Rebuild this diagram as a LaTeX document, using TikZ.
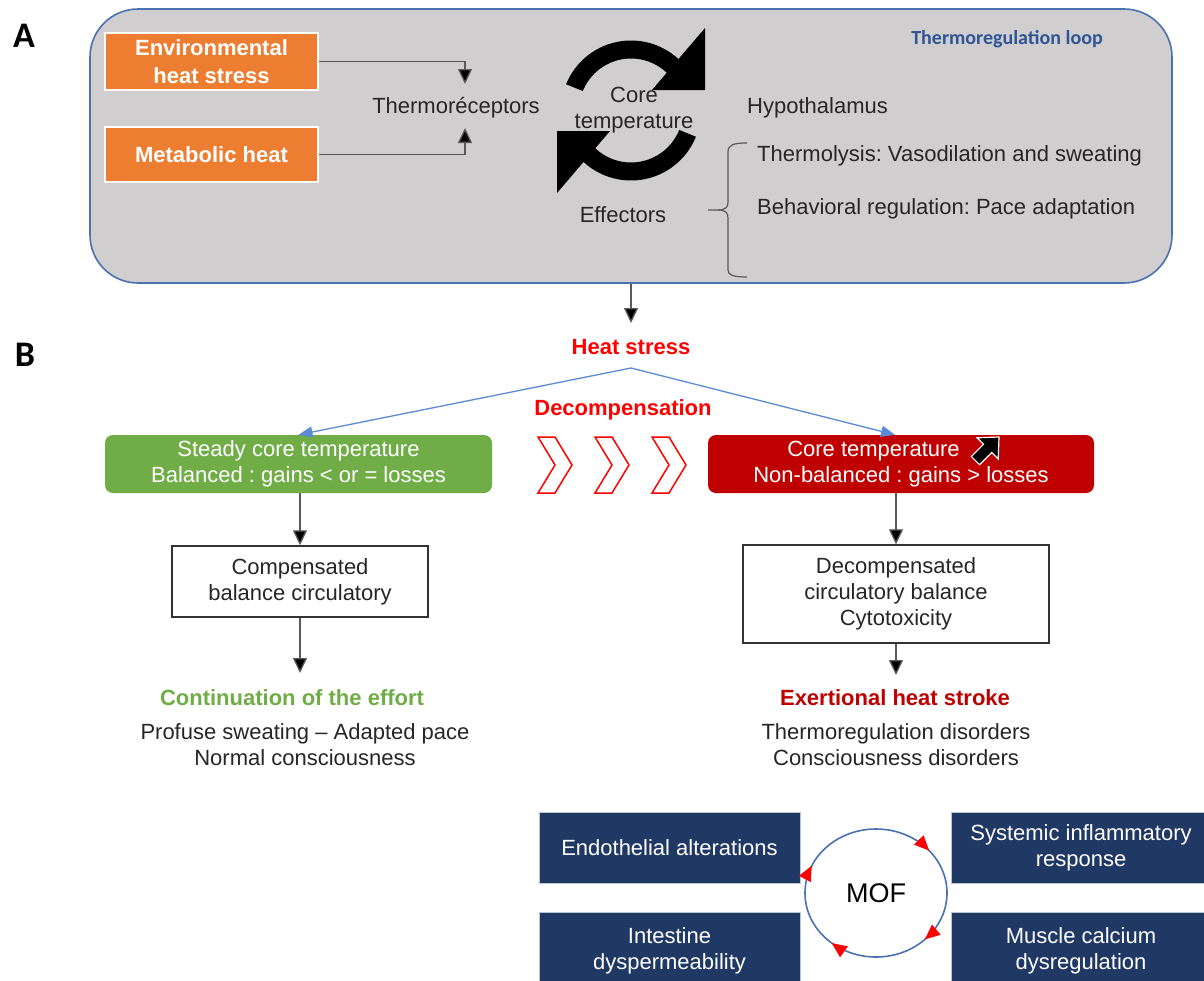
\documentclass[tikz,border=0pt]{standalone}
\usepackage{fontspec}
\setmainfont{Liberation Sans}
\newfontfamily\calib{Carlito}
\usetikzlibrary{arrows.meta,decorations.markings,calc}
\definecolor{loopgray}{HTML}{D0CECE}
\definecolor{loopblue}{HTML}{4A72B0}
\definecolor{orangec}{HTML}{ED7D31}
\definecolor{greenc}{HTML}{70AD47}
\definecolor{redboxc}{HTML}{C00000}
\definecolor{navyc}{HTML}{203864}
\definecolor{txtc}{HTML}{262626}
\definecolor{linec}{HTML}{595959}
\definecolor{brightred}{HTML}{FF0000}
\definecolor{titleblue}{HTML}{2F5597}
\definecolor{splitblue}{HTML}{5B8BD6}
\newcommand{\mysz}{\fontsize{22}{26}\selectfont}
\frenchspacing
\tikzset{
  txt/.style={inner sep=0pt, font=\mysz, text=txtc, align=center},
  conn/.style={draw=linec, line width=1.3pt, -{Triangle[length=15pt,width=14pt,fill=black]}},
  blueconn/.style={draw=splitblue, line width=1.3pt, -{Triangle[length=14pt,width=11pt]}},
  orangebox/.style={fill=orangec, draw=white, line width=2pt, minimum width=213pt, inner sep=0pt,
    text=white, font=\bfseries\fontsize{22}{28}\selectfont, align=center},
  flowbox/.style={rounded corners=8pt, inner sep=0pt, text=white, font=\mysz, align=center,
    minimum width=387pt, minimum height=58pt},
  wbox/.style={draw=black!80, fill=white, line width=1.4pt, inner sep=0pt, text=txtc, font=\mysz, align=center},
  navybox/.style={fill=navyc, draw=navyc!30!white, line width=0.8pt, inner sep=0pt, text=white, font=\mysz, align=center},
  redbold/.style={inner sep=0pt, text=brightred, font=\bfseries\mysz},
  chev/.style={draw=brightred, fill=white, line width=1.5pt, line join=miter},
  panel/.style={inner sep=0pt, font=\calib\bfseries\fontsize{36}{40}\selectfont, text=black},
  mofhead/.style={brightred},
}
\begin{document}
\begin{tikzpicture}[x=1pt,y=-1pt]
\useasboundingbox (0,0) rectangle (1204,980);
\fill[white] (0,0) rectangle (1204,980);

% panel labels
\node[panel] (labA) at (24,36) {A};
\node[panel] (labB) at (25,355) {B};

% ---------- Panel A ----------
\node[draw=loopblue, line width=1.6pt, fill=loopgray, rounded corners=48pt,
      minimum width=1082pt, minimum height=274pt, inner sep=0pt] (loop) at (631,146) {};

\node[orangebox, minimum height=57pt] (env) at (211.5,61.5) {Environmental\\heat stress};
\node[orangebox, minimum height=55pt] (meta) at (211.5,154.5) {Metabolic heat};

\node[txt] (thermo) at (456,108) {Thermoréceptors};
\coordinate (tin1) at (465,84);
\coordinate (tin2) at (465,128);
\draw[conn] (env.east) -| (tin1);
\draw[conn] (meta.east) -| (tin2);

% cycle arrows
\coordinate (cyc) at (631,110.5);
\fill[black] ($(cyc)+(-158:70)$) arc[start angle=-158,end angle=-45,radius=70]
   -- ($(cyc)+(-45:52)$) arc[start angle=-45,end angle=-158,radius=52] -- cycle;
\fill[black] (705,28) -- (705,90) -- (652,90) -- cycle;
\fill[black] ($(cyc)+(22:70)$) arc[start angle=22,end angle=135,radius=70]
   -- ($(cyc)+(135:52)$) arc[start angle=135,end angle=22,radius=52] -- cycle;
\fill[black] (557,193) -- (557,131) -- (610,131) -- cycle;

\node[txt] (core) at (634,110) {Core\\temperature};
\node[txt] (eff) at (623,215) {Effectors};
\node[txt, anchor=west] (hypo) at (747,108) {Hypothalamus};
\node[txt, anchor=west] (lysis) at (757,156) {Thermolysis: Vasodilation and sweating};
\node[txt, anchor=west] (behav) at (757,209) {Behavioral regulation: Pace adaptation};

% brace
\draw[linec, line width=1.2pt]
  (747,143) .. controls (733,143) and (728,145) .. (728,152) -- (728,202)
  .. controls (728,207) and (726,210) .. (718,210) -- (708,210);
\draw[linec, line width=1.2pt]
  (718,210) .. controls (726,210) and (728,213) .. (728,218) -- (728,270)
  .. controls (728,275) and (733,277) .. (747,277);

\node[inner sep=0pt, font=\calib\bfseries\fontsize{20}{24}\selectfont, text=titleblue, anchor=east]
  (looptitle) at (1103,39) {Thermoregulation loop};

% ---------- Panel B ----------
\node[redbold] (heat) at (631,347) {Heat stress};
\coordinate (heatin) at (631,323);
\draw[conn] (loop.south) -- (heatin);

\node[flowbox, fill=greenc] (green) at (298.5,464) {Steady core temperature\\Balanced : gains < or = losses};
\node[flowbox, fill=redboxc, minimum width=386pt] (red) at (901,464)
  {Core temperature\hspace*{55pt}\\Non-balanced : gains > losses};
\begin{scope}[shift={(986,450)}, rotate=45, scale=1.15]
  \filldraw[fill=black, draw=white, line width=1.2pt]
    (16,0) -- (2,13) -- (2,5) -- (-13,5) -- (-13,-5) -- (2,-5) -- (2,-13) -- cycle;
\end{scope}

\coordinate (apex) at (631,368);
\draw[blueconn] (apex) -- (green.north);
\draw[blueconn] (apex) -- ([xshift=-6pt]red.north);

\node[redbold] (decomp) at (623,410) {Decompensation};
\foreach \dx in {0,57,114}{
  \draw[chev, shift={(\dx,0)}] (538,437) -- (555,437) -- (572,465) -- (555,493) -- (538,493) -- (555,465) -- cycle;
}

% left branch
\node[wbox, minimum width=256pt, minimum height=71pt] (comp) at (300,581.5) {Compensated\\balance circulatory};
\draw[conn] (comp.north |- green.south) -- (comp.north);
\coordinate (contin) at (300,673);
\draw[conn] (comp.south) -- (contin);
\node[inner sep=0pt, text=greenc, font=\bfseries\mysz] (cont) at (292,698) {Continuation of the effort};
\node[txt] (prof) at (305,745) {Profuse sweating – Adapted pace\\Normal consciousness};

% right branch
\node[wbox, minimum width=306pt, minimum height=98pt] (decbox) at (896,594)
  {Decompensated\\circulatory balance\\Cytotoxicity};
\draw[conn] (decbox.north |- red.south) -- (decbox.north);
\coordinate (ehsin) at (896,675);
\draw[conn] (decbox.south) -- (ehsin);
\node[inner sep=0pt, text=redboxc, font=\bfseries\mysz] (ehs) at (895,698) {Exertional heat stroke};
\node[txt] (dis) at (896,745) {Thermoregulation disorders\\Consciousness disorders};

% MOF
\node[navybox, minimum width=261pt, minimum height=71pt] (endo) at (669.5,847.5) {Endothelial alterations};
\node[navybox, minimum width=260pt, minimum height=71pt] (sirs) at (1081,847.5) {Systemic inflammatory\\response};
\node[navybox, minimum width=261pt, minimum height=78pt] (intest) at (669.5,951) {Intestine\\dyspermeability};
\node[navybox, minimum width=260pt, minimum height=78pt] (muscle) at (1081,951) {Muscle calcium\\dysregulation};

\node[inner sep=0pt, font=\fontsize{27}{30}\selectfont, text=black] (mof) at (876,893) {MOF};
\draw[draw=loopblue, line width=1.6pt,
  postaction={decorate, decoration={markings,
    mark=at position 0.125 with {\arrow[mofhead]{Triangle[length=15pt,width=13pt]}},
    mark=at position 0.361 with {\arrow[mofhead]{Triangle[length=15pt,width=13pt]}},
    mark=at position 0.567 with {\arrow[mofhead]{Triangle[length=15pt,width=13pt]}},
    mark=at position 0.889 with {\arrow[mofhead]{Triangle[length=15pt,width=13pt]}}}}]
  (mof.center) ellipse [x radius=71, y radius=64];
\end{tikzpicture}
\end{document}
